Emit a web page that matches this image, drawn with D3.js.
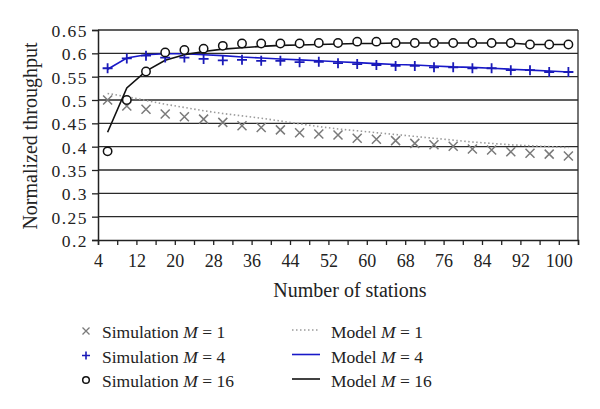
<!DOCTYPE html>
<html><head><meta charset="utf-8">
<script src="https://cdn.jsdelivr.net/npm/d3@7"></script>
<style>
html,body{margin:0;padding:0;background:#fff;}
svg{display:block;}
text{font-family:"Liberation Serif","DejaVu Serif",serif !important;fill:#222;}
</style></head>
<body>
<svg id="chart" width="600" height="409"></svg>
<script>
const stations = [6,10,14,18,22,26,30,34,38,42,46,50,54,58,62,66,70,74,78,82,86,90,94,98,102];
const xTickValues = [4,8,12,16,20,24,28,32,36,40,44,48,52,56,60,64,68,72,76,80,84,88,92,96,100,104];
const xTickLabels = [4,12,20,28,36,44,52,60,68,76,84,92,100];
const yTickValues = [0.2,0.25,0.3,0.35,0.4,0.45,0.5,0.55,0.6,0.65];

const simM1 = [0.500,0.487,0.480,0.470,0.464,0.459,0.452,0.445,0.441,0.436,0.430,0.427,0.425,0.418,0.416,0.413,0.407,0.404,0.401,0.395,0.393,0.389,0.386,0.384,0.380];
const simM4 = [0.568,0.589,0.595,0.591,0.591,0.588,0.585,0.586,0.584,0.584,0.581,0.582,0.579,0.577,0.575,0.573,0.573,0.570,0.570,0.568,0.568,0.564,0.564,0.560,0.560];
const simM16 = [0.390,0.500,0.561,0.602,0.607,0.610,0.616,0.621,0.621,0.621,0.621,0.622,0.622,0.625,0.625,0.622,0.622,0.622,0.622,0.622,0.622,0.622,0.619,0.619,0.619];
const modelM1 = [0.514,0.507,0.499,0.491,0.484,0.477,0.471,0.466,0.461,0.455,0.449,0.443,0.438,0.434,0.430,0.426,0.422,0.418,0.414,0.410,0.407,0.404,0.402,0.400,0.398];
const modelM4 = [0.566,0.590,0.597,0.599,0.599,0.597,0.595,0.592,0.590,0.588,0.586,0.584,0.582,0.580,0.578,0.576,0.575,0.573,0.571,0.570,0.568,0.566,0.564,0.562,0.560];
const modelM16 = [0.431,0.526,0.562,0.585,0.597,0.604,0.609,0.612,0.615,0.617,0.618,0.619,0.620,0.621,0.621,0.622,0.622,0.622,0.622,0.622,0.622,0.622,0.619,0.619,0.619];

const legendSim = ["Simulation", "Simulation", "Simulation"];
const legendModel = ["Model", "Model", "Model"];
const legendM = ["1","4","16"];

const svg = d3.select("#chart");
const L = 98, R = 578, T = 30, B = 240;
const x = d3.scaleLinear().domain([4,104]).range([L,R]);
const y = d3.scaleLinear().domain([0.2,0.65]).range([B,T]);

// gridlines
svg.append("g").selectAll("line").data(yTickValues.filter(v=>v>0.2)).join("line")
  .attr("x1",L).attr("x2",R).attr("y1",d=>y(d)).attr("y2",d=>y(d))
  .attr("stroke","#2a2a2a").attr("stroke-width",1.3);
// right border
svg.append("line").attr("x1",R).attr("x2",R).attr("y1",T).attr("y2",B).attr("stroke","#2a2a2a").attr("stroke-width",1.3);

// y axis
const yAxis = svg.append("g").attr("transform",`translate(${L},0)`)
  .call(d3.axisLeft(y).tickValues(yTickValues).tickSize(6).tickPadding(4).tickFormat(d=>String(+d.toFixed(2))));
yAxis.attr("font-family",null);
yAxis.select(".domain").attr("stroke","#222").attr("stroke-width",1.5);
yAxis.selectAll(".tick line").attr("stroke","#222").attr("stroke-width",1.3);
yAxis.selectAll("text").attr("font-size",17.5).attr("letter-spacing","1.5px").attr("fill","#222").attr("dy","0.38em");

// x axis
const xAxis = svg.append("g").attr("transform",`translate(0,${B})`)
  .call(d3.axisBottom(x).tickValues(xTickValues).tickSize(5).tickPadding(9)
    .tickFormat(d=>xTickLabels.includes(d)?String(d):""));
xAxis.attr("font-family",null);
xAxis.select(".domain").attr("stroke","#222").attr("stroke-width",1.5);
xAxis.selectAll(".tick line").attr("stroke","#222").attr("stroke-width",1.3);
xAxis.selectAll("text").attr("font-size",18).attr("fill","#222");

// axis titles
svg.append("text").attr("x",350).attr("y",297).attr("text-anchor","middle").attr("font-size",20).text("Number of stations");
svg.append("text").attr("transform","translate(37,136) rotate(-90)").attr("text-anchor","middle").attr("font-size",20).text("Normalized throughput");

const line = d3.line().x((d,i)=>x(stations[i])).y(d=>y(d));
const g = svg.append("g");
g.append("path").datum(modelM1).attr("d",line).attr("fill","none").attr("stroke","#9a9a9a").attr("stroke-width",1.6).attr("stroke-dasharray","1.5,2.5");
g.append("path").datum(modelM4).attr("d",line).attr("fill","none").attr("stroke","#1818c8").attr("stroke-width",1.6);
g.append("path").datum(modelM16).attr("d",line).attr("fill","none").attr("stroke","#111").attr("stroke-width",1.6);

function cross(sel, s){ // x marker
  sel.append("path").attr("d",`M${-s},${-s}L${s},${s}M${-s},${s}L${s},${-s}`);
}
function plus(sel, s){
  sel.append("path").attr("d",`M${-s},0L${s},0M0,${-s}L0,${s}`);
}
g.append("g").selectAll("g").data(simM1).join("g")
  .attr("transform",(d,i)=>`translate(${x(stations[i])},${y(d)})`)
  .attr("stroke","#7a7a7a").attr("stroke-width",1.5).attr("fill","none")
  .each(function(){cross(d3.select(this),4.5);});
g.append("g").selectAll("g").data(simM4).join("g")
  .attr("transform",(d,i)=>`translate(${x(stations[i])},${y(d)})`)
  .attr("stroke","#1a1ab8").attr("stroke-width",1.8).attr("fill","none")
  .each(function(){plus(d3.select(this),5);});
g.append("g").selectAll("circle").data(simM16).join("circle")
  .attr("cx",(d,i)=>x(stations[i])).attr("cy",d=>y(d)).attr("r",4.2)
  .attr("fill","#fff").attr("stroke","#111").attr("stroke-width",1.5);

// legend
const rowsY = [331,355.5,380];
const lg = svg.append("g");
rowsY.forEach((ry,i)=>{
  const m = lg.append("g").attr("transform",`translate(86,${ry})`).attr("fill","none");
  if(i===0){ m.attr("stroke","#7a7a7a").attr("stroke-width",1.3); cross(m,3.5); }
  if(i===1){ m.attr("stroke","#1a1ab8").attr("stroke-width",1.6); plus(m,4); }
  if(i===2){ m.append("circle").attr("r",3.3).attr("fill","#fff").attr("stroke","#111").attr("stroke-width",1.5); }
  const t = lg.append("text").attr("x",102).attr("y",ry+7).attr("font-size",17.5);
  t.append("tspan").text(legendSim[i]+" ");
  t.append("tspan").attr("font-style","italic").text("M");
  t.append("tspan").text(" = "+legendM[i]);

  const ln = lg.append("line").attr("x1",292).attr("x2",320).attr("y1",ry-1).attr("y2",ry-1).attr("stroke-width",1.6);
  if(i===0) ln.attr("stroke","#9a9a9a").attr("stroke-dasharray","1.5,2.5");
  if(i===1) ln.attr("stroke","#1818c8");
  if(i===2) ln.attr("stroke","#111");
  const t2 = lg.append("text").attr("x",331).attr("y",ry+7).attr("font-size",17.5);
  t2.append("tspan").text(legendModel[i]+" ");
  t2.append("tspan").attr("font-style","italic").text("M");
  t2.append("tspan").text(" = "+legendM[i]);
});
</script>
</body></html>
